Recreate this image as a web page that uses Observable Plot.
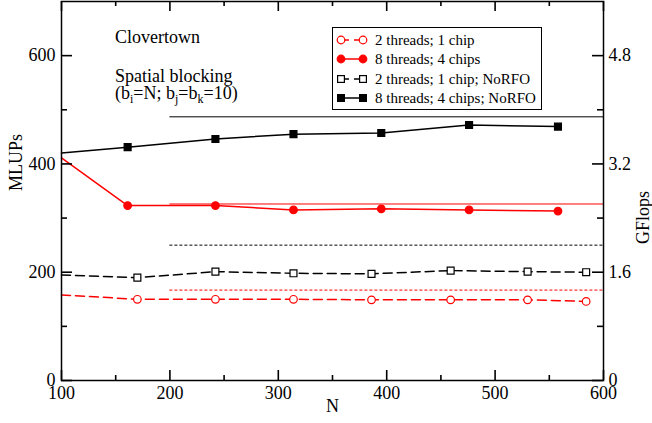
<!DOCTYPE html>
<html>
<head>
<meta charset="utf-8">
<script src="https://cdn.jsdelivr.net/npm/d3@7"></script>
<script src="https://cdn.jsdelivr.net/npm/@observablehq/plot@0.6"></script>
<style>
  body { margin: 0; background: #fff; }
  #wrap { position: relative; width: 652px; height: 423px; font-family: "Liberation Serif", "Times New Roman", serif; color: #000; }
  #wrap svg { display: block; }
  .note { position: absolute; font-family: "Liberation Serif", serif; font-size: 18px; line-height: 18px; white-space: nowrap; }
  .note sub { font-size: 12px; vertical-align: -4px; line-height: 0; }
  #legend { position: absolute; left: 332px; top: 27px; width: 208px; height: 81px; border: 1px solid #000; background: #fff; font-family: "Liberation Serif", serif; font-size: 15px; }
  .row { position: absolute; left: 0; height: 18px; width: 208px; }
  .row svg { position: absolute; left: 3px; top: 3px; }
  .row span { position: absolute; left: 42px; top: 0; line-height: 18px; white-space: nowrap; }
</style>
</head>
<body>
<div id="wrap"></div>
<script>
// ---- data ----
const seriesNames = ["2 threads; 1 chip", "8 threads; 4 chips", "2 threads; 1 chip; NoRFO", "8 threads; 4 chips; NoRFO"];
const nTwoThreads = [100, 170, 242, 314, 386, 459, 530, 584];
const twoThreads = [158, 150, 150, 150, 149, 149, 149, 146];
const twoThreadsNoRFO = [195, 190, 201, 198, 197, 203, 201, 200];
const nEightThreads = [100, 161, 242, 314, 395, 476, 558];
const eightThreads = [411, 323, 323, 315, 317, 315, 313];
const eightThreadsNoRFO = [420, 431, 446, 455, 457, 472, 469];
// horizontal limit lines (same order as seriesNames)
const limitValues = [167, 326, 250, 487];
const limitRange = [200, 600];
// ticks
const xDomain = [100, 600];
const yDomain = [0, 700];
const xTicks = [100, 200, 300, 400, 500, 600];
const xMinorTicks = [150, 250, 350, 450, 550];
const yTicks = [0, 200, 400, 600];
const yMinorTicks = [100, 300, 500];
const gflopsTicks = [0, 1.6, 3.2, 4.8];
const gflopsMinorTicks = [0.8, 2.4, 4.0];
const mlupsPerGflop = 125;

// ---- layout / styles ----
const W = 652, H = 423, mL = 61, mR = 49, mT = 1, mB = 43;
const frameW = W - mL - mR, frameH = H - mT - mB;
const xPerPx = (xDomain[1] - xDomain[0]) / frameW;
const yPerPx = (yDomain[1] - yDomain[0]) / frameH;
const styles = [
  {color: "#ff0000", dash: "9,5", symbol: "circle", open: true, limitDash: "3,2"},
  {color: "#ff0000", dash: null, symbol: "circle", open: false, limitDash: null},
  {color: "#000000", dash: "9,5", symbol: "square", open: true, limitDash: "3,2"},
  {color: "#000000", dash: null, symbol: "square", open: false, limitDash: null}
];

const seriesData = [
  nTwoThreads.map((n, i) => ({n, v: twoThreads[i]})),
  nEightThreads.map((n, i) => ({n, v: eightThreads[i]})),
  nTwoThreads.map((n, i) => ({n, v: twoThreadsNoRFO[i]})),
  nEightThreads.map((n, i) => ({n, v: eightThreadsNoRFO[i]}))
];

const marks = [];
// limit lines
limitValues.forEach((v, i) => {
  marks.push(Plot.ruleY([v], {
    y: d => d, x1: limitRange[0], x2: limitRange[1],
    stroke: styles[i].color, strokeWidth: 1, strokeDasharray: styles[i].limitDash
  }));
});
// series
seriesData.forEach((rows, i) => {
  const s = styles[i];
  marks.push(Plot.line(rows, {x: "n", y: "v", stroke: s.color, strokeWidth: 1.5, strokeDasharray: s.dash}));
  marks.push(Plot.dot(rows.filter(d => d.n > 100), {
    x: "n", y: "v", symbol: s.symbol, r: s.symbol === "square" ? 3.9 : 3.8,
    fill: s.open ? "white" : s.color, stroke: s.color, strokeWidth: 1.2
  }));
});

const gMajor = gflopsTicks.map(g => g * mlupsPerGflop);
const gMinor = gflopsMinorTicks.map(g => g * mlupsPerGflop);
const tk = {stroke: "black", strokeWidth: 1.6};
// inward tick helpers (length in pixels)
const leftTicks = (vals, len) => Plot.ruleY(vals, {y: d => d, x1: xDomain[0], x2: xDomain[0] + len * xPerPx, ...tk});
const rightTicks = (vals, len) => Plot.ruleY(vals, {y: d => d, x1: xDomain[1] - len * xPerPx, x2: xDomain[1], ...tk});
const bottomTicks = (vals, len) => Plot.ruleX(vals, {x: d => d, y1: yDomain[0], y2: yDomain[0] + len * yPerPx, ...tk});
const topTicks = (vals, len) => Plot.ruleX(vals, {x: d => d, y1: yDomain[1] - len * yPerPx, y2: yDomain[1], ...tk});

marks.push(
  Plot.frame({stroke: "black", strokeWidth: 1.5}),
  leftTicks(yTicks, 11), leftTicks(yMinorTicks, 6),
  rightTicks(gMajor, 11), rightTicks(gMinor, 6),
  bottomTicks(xTicks, 10), bottomTicks(xMinorTicks, 5),
  topTicks(xTicks, 10), topTicks(xMinorTicks, 5),
  // tick labels
  Plot.axisY(yTicks, {anchor: "left", tickSize: 0, tickPadding: 6, fontSize: 18, label: null}),
  Plot.axisY(gMajor, {anchor: "right", tickSize: 0, tickPadding: 5, fontSize: 18, label: null,
    tickFormat: d => String(+(d / mlupsPerGflop).toFixed(1))}),
  Plot.axisX(xTicks, {anchor: "bottom", tickSize: 0, tickPadding: 6, fontSize: 18, label: null}),
  // axis titles
  Plot.text(["MLUPs"], {text: d => d, frameAnchor: "left", dx: -45, rotate: -90, fontSize: 18}),
  Plot.text(["GFlops"], {text: d => d, frameAnchor: "right", dx: 40, rotate: -90, fontSize: 18}),
  Plot.text(["N"], {text: d => d, frameAnchor: "bottom", dy: 31, fontSize: 18})
);

const chart = Plot.plot({
  width: W,
  height: H,
  marginLeft: mL,
  marginRight: mR,
  marginTop: mT,
  marginBottom: mB,
  x: {domain: xDomain},
  y: {domain: yDomain},
  style: {fontFamily: "'Liberation Serif', 'Times New Roman', serif", fontSize: "18px", background: "white", color: "black", overflow: "visible"},
  marks
});

const wrap = document.getElementById("wrap");
wrap.appendChild(chart);

// annotations
const notes = [
  {top: 28, html: "Clovertown"},
  {top: 67, html: "Spatial blocking"},
  {top: 84, html: "(b<sub>i</sub>=N; b<sub>j</sub>=b<sub>k</sub>=10)"}
];
notes.forEach(n => {
  const d = document.createElement("div");
  d.className = "note";
  d.style.left = "115px";
  d.style.top = n.top + "px";
  d.innerHTML = n.html;
  wrap.appendChild(d);
});

// legend
const legend = document.createElement("div");
legend.id = "legend";
const rowCenters = [12, 31, 51, 70];
seriesNames.forEach((name, i) => {
  const s = styles[i];
  const row = document.createElement("div");
  row.className = "row";
  row.style.top = (rowCenters[i] - 9) + "px";
  const fill = s.open ? "white" : s.color;
  const marker = cx => s.symbol === "circle"
    ? `<circle cx="${cx}" cy="6" r="3.8" fill="${fill}" stroke="${s.color}" stroke-width="1.2"/>`
    : `<rect x="${cx - 3.4}" y="2.6" width="6.8" height="6.8" fill="${fill}" stroke="${s.color}" stroke-width="1.2"/>`;
  row.innerHTML = `<svg width="34" height="12">
      <line x1="5" y1="6" x2="27" y2="6" stroke="${s.color}" stroke-width="1.5" ${s.dash ? 'stroke-dasharray="8,5"' : ""}/>
      ${marker(5)}${marker(27)}
    </svg><span>${name}</span>`;
  legend.appendChild(row);
});
wrap.appendChild(legend);
</script>
</body>
</html>
